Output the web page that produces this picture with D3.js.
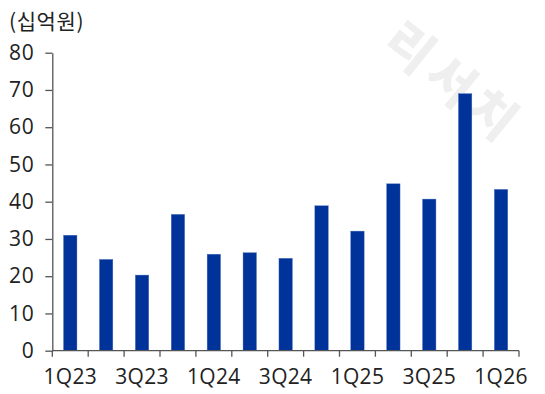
<!DOCTYPE html>
<html><head><meta charset="utf-8">
<script src="https://cdn.jsdelivr.net/npm/d3@7"></script>
<style>body{margin:0;background:#fff}svg{display:block}</style>
</head><body>
<script>
const categories = ["1Q23","2Q23","3Q23","4Q23","1Q24","2Q24","3Q24","4Q24","1Q25","2Q25","3Q25","4Q25","1Q26"];
const values = [31.0, 24.5, 20.3, 36.6, 25.9, 26.3, 24.8, 38.9, 32.1, 44.8, 40.7, 69.0, 43.3];
const yTicks = [0,10,20,30,40,50,60,70,80];
const xLabels = ["1Q23","3Q23","1Q24","3Q24","1Q25","3Q25","1Q26"];
const unitLabel = "(십억원)";
const watermark = "리서치";

const W = 545, H = 394;
const svg = d3.select("body").append("svg").attr("width", W).attr("height", H);

// watermark
svg.append("text")
  .attr("transform", "translate(456,80) rotate(39)")
  .attr("text-anchor", "middle")
  .attr("dominant-baseline", "central")
  .attr("font-family", "Noto Sans CJK KR")
  .attr("font-weight", 900)
  .attr("font-size", 50)
  .attr("fill", "#efefef")
  .attr("letter-spacing", 7)
  .text(watermark);

const x = d3.scaleBand().domain(categories).range([52.3, 519]).paddingInner(0.627).paddingOuter(0.3135);
const xb = d3.scaleBand().domain(categories).range([52.3, 519]);
const y = d3.scaleLinear().domain([0, 80]).range([350.7, 52.7]);

const fontNum = "'Open Sans', 'Noto Sans', sans-serif";

svg.append("g").selectAll("rect").data(values).join("rect")
  .attr("x", (d,i) => x(categories[i]))
  .attr("width", x.bandwidth())
  .attr("y", d => y(d))
  .attr("height", d => y(0) - y(d))
  .attr("fill", "#003399")
  .attr("stroke", "#4a6cc0")
  .attr("stroke-width", 0.4);

// y axis
const yAxis = svg.append("g").attr("transform", "translate(52.3,0)")
  .call(d3.axisLeft(y).tickValues(yTicks).tickSize(7).tickPadding(11).tickSizeOuter(0));
yAxis.select(".domain").attr("stroke", "#555").attr("stroke-width", 1.3);
yAxis.selectAll(".tick line").attr("stroke", "#555").attr("stroke-width", 1.3);
yAxis.selectAll("text").attr("font-family", fontNum).attr("font-size", 21).attr("letter-spacing", 0.6).attr("fill", "#222");

// x axis
const xg = svg.append("g").attr("transform", "translate(0,350.7)");
xg.append("line").attr("x1", 52.3).attr("x2", 519).attr("stroke", "#555").attr("stroke-width", 1.3);
const bounds = categories.map(c => xb(c)).concat([xb.range()[1]]);
xg.selectAll("line.t").data(bounds).join("line").attr("class","t")
  .attr("x1", d => d).attr("x2", d => d).attr("y1", 0).attr("y2", 6)
  .attr("stroke", "#555").attr("stroke-width", 1.3);
xg.selectAll("text").data(xLabels).join("text")
  .attr("x", d => xb(d) + xb.bandwidth()/2)
  .attr("y", 33)
  .attr("text-anchor", "middle")
  .attr("font-family", fontNum).attr("font-size", 21).attr("letter-spacing", 0.3).attr("fill", "#222")
  .text(d => d);

svg.append("text").attr("x", 9).attr("y", 29)
  .attr("font-family", "'Noto Sans CJK KR', sans-serif").attr("font-size", 21).attr("letter-spacing", 0.6).attr("fill", "#222")
  .text(unitLabel);
</script>
</body></html>
